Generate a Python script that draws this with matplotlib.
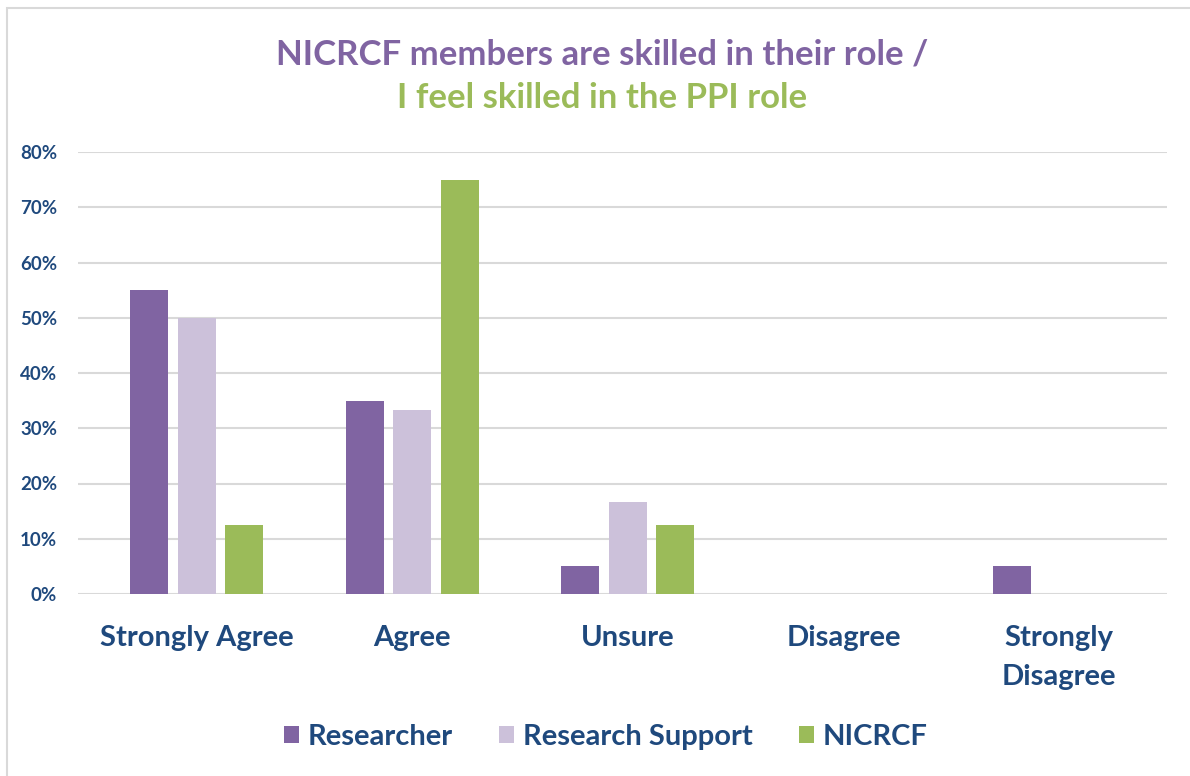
import matplotlib
matplotlib.use("Agg")
import matplotlib.pyplot as plt
from matplotlib.patches import Rectangle
import numpy as np

categories = ["Strongly Agree", "Agree", "Unsure", "Disagree", "Strongly\nDisagree"]
researcher = [55, 35, 5, 0, 5]
research_support = [50, 33.3, 16.7, 0, 0]
nicrcf = [12.5, 75, 12.5, 0, 0]
series_names = ["Researcher", "Research Support", "NICRCF"]
yticks = [0, 10, 20, 30, 40, 50, 60, 70, 80]

colors = ["#8064A2", "#CCC1DA", "#9BBB59"]
txt = "#1F497D"
FONT = "Lato"

fig = plt.figure(figsize=(11.9, 7.76), dpi=100)
ax = fig.add_axes([78/1190, 1-594/776, (1167-78)/1190, (594-152)/776])

x = np.arange(len(categories))
w = 0.176
step = 0.2205
for i, (vals, c, name) in enumerate(zip([researcher, research_support, nicrcf], colors, series_names)):
    ax.bar(x + (i-1)*step, vals, width=w, color=c, label=name, zorder=3)

ax.set_ylim(0, 80)
ax.set_xlim(-0.55, 4.5)
ax.set_yticks(yticks)
ax.set_yticklabels([f"{v}%" for v in yticks], fontsize=13.5, fontweight="bold", color=txt, family=FONT)
ax.set_xticks(x)
ax.set_xticklabels(categories, fontsize=21, fontweight="bold", color=txt, family=FONT, linespacing=1.65, va="top")
ax.tick_params(axis="both", length=0)
ax.tick_params(axis="y", pad=15)
ax.tick_params(axis="x", pad=22)
ax.grid(axis="y", color="#D9D9D9", linewidth=1.5, zorder=0)
for s in ax.spines.values():
    s.set_visible(False)

fig.text(0.506, 1-55/776, "NICRCF members are skilled in their role /", ha="center", va="center",
         fontsize=25, fontweight="bold", color="#8064A2", family=FONT)
fig.text(0.506, 1-98/776, "I feel skilled in the PPI role", ha="center", va="center",
         fontsize=25, fontweight="bold", color="#9BBB59", family=FONT)

leg = fig.legend(loc="center", bbox_to_anchor=(0.509, 1-737/776), ncol=3, frameon=False,
                 prop={"family": FONT, "weight": "bold", "size": 21},
                 handlelength=0.5, handleheight=0.5, handletextpad=0.3, columnspacing=1.6)
for t in leg.get_texts():
    t.set_color(txt)

# light border of the chart area
fig.patches.append(Rectangle((7/1190, -0.05), 1.2, 1-8/776+0.05, transform=fig.transFigure,
                             fill=False, edgecolor="#D9D9D9", linewidth=1.5))

fig.savefig("out.png", dpi=100)
